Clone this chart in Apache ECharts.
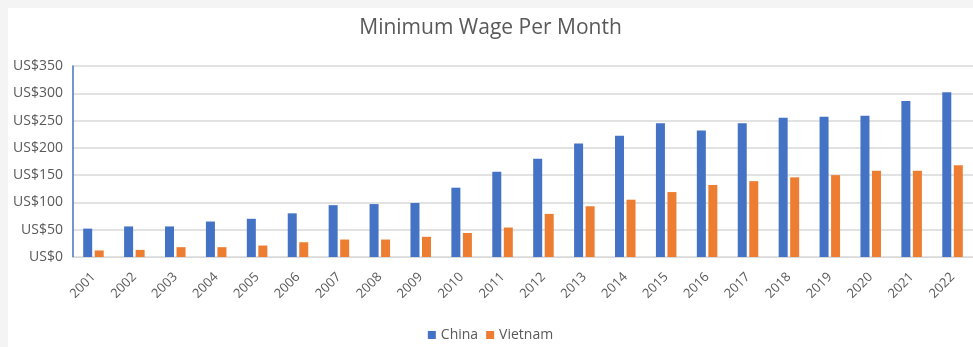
<!DOCTYPE html>
<html>
<head>
<meta charset="utf-8">
<title>Minimum Wage Per Month</title>
<script src="https://cdn.jsdelivr.net/npm/echarts@6/dist/echarts.min.js"></script>
<style>
  html, body { margin: 0; padding: 0; background: #f4f4f4; }
  #chart { position: absolute; left: 8px; top: 8px; width: 965px; height: 339px; background: #ffffff; }
</style>
</head>
<body>
<div id="chart"></div>
<script>
// Monthly minimum wage, US$
const years = ['2001','2002','2003','2004','2005','2006','2007','2008','2009','2010','2011',
               '2012','2013','2014','2015','2016','2017','2018','2019','2020','2021','2022'];
const china = [52, 56, 56, 65, 70, 80, 95, 97, 99, 127, 156,
               180, 208, 222, 245, 232, 245, 255, 257, 259, 286, 302];
const vietnam = [12, 13, 18, 18, 21, 27, 32, 32, 37, 44, 54,
                 79, 93, 105, 119, 132, 139, 146, 150, 158, 158, 168];
const yTicks = { min: 0, max: 350, interval: 50 };

const textColor = '#595959';
const font = '"Open Sans", "Noto Sans", sans-serif';

const chart = echarts.init(document.getElementById('chart'), null, { renderer: 'canvas' });
chart.setOption({
  animation: false,
  textStyle: { fontFamily: font },
  title: {
    text: 'Minimum Wage Per Month',
    left: 'center',
    top: 5,
    textStyle: { fontFamily: font, fontSize: 21, fontWeight: 'normal', color: textColor }
  },
  legend: {
    bottom: 0,
    left: 'center',
    itemWidth: 8,
    itemHeight: 8,
    itemGap: 8,
    icon: 'rect',
    textStyle: { fontFamily: font, fontSize: 14, color: textColor },
    data: ['China', 'Vietnam']
  },
  grid: { left: 65, top: 58, width: 904, height: 191, containLabel: false },
  xAxis: {
    type: 'category',
    data: years,
    axisTick: { show: false },
    axisLine: { lineStyle: { color: '#d9d9d9', width: 1 } },
    axisLabel: { rotate: 45, fontSize: 13, color: textColor, margin: 18, interval: 0, fontFamily: font }
  },
  yAxis: {
    type: 'value',
    min: yTicks.min,
    max: yTicks.max,
    interval: yTicks.interval,
    axisLine: { show: true, lineStyle: { color: '#4472C4', width: 1.5 } },
    axisTick: { show: false },
    splitLine: { lineStyle: { color: '#d9d9d9', width: 1.5 } },
    axisLabel: { fontSize: 14, color: textColor, margin: 10, fontFamily: font,
                 formatter: v => 'US$' + v }
  },
  series: [
    { name: 'China', type: 'bar', data: china, barWidth: 9, barGap: '28%',
      itemStyle: { color: '#4472C4' } },
    { name: 'Vietnam', type: 'bar', data: vietnam, barWidth: 9, barGap: '28%',
      itemStyle: { color: '#ED7D31' } }
  ]
});
</script>
</body>
</html>
